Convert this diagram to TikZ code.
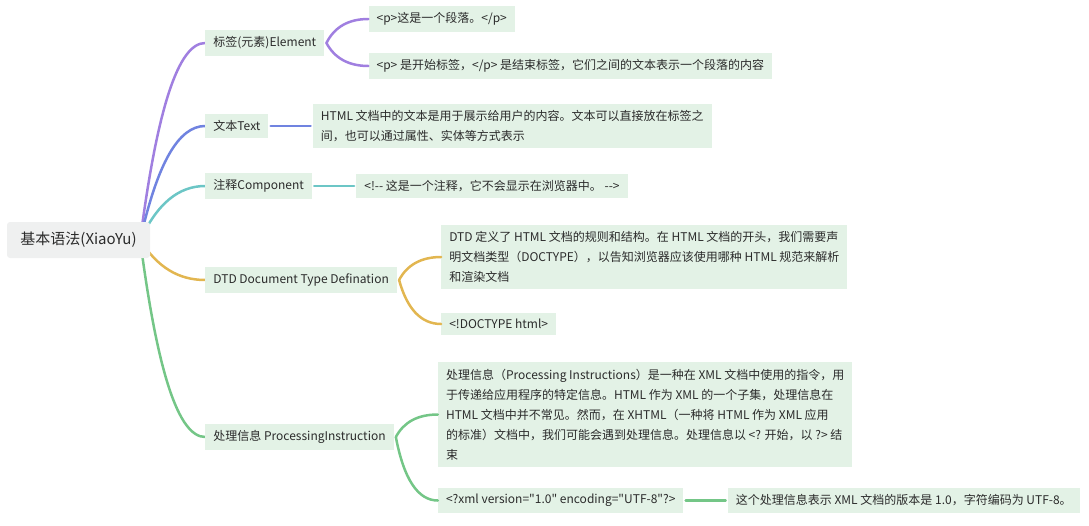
\documentclass[tikz,border=0pt]{standalone}
\usepackage{fontspec}
\setmainfont{Noto Sans CJK SC}[Ligatures=TeXOff]
\usetikzlibrary{positioning,backgrounds}
\definecolor{ink}{HTML}{2B2B2B}
\definecolor{topicfill}{HTML}{E3F2E6}
\definecolor{rootfill}{HTML}{EFF0F0}
\definecolor{lav}{HTML}{A07FE0}
\definecolor{blu}{HTML}{7083E0}
\definecolor{tea}{HTML}{6CC6C6}
\definecolor{yel}{HTML}{E2B650}
\definecolor{grn}{HTML}{74C687}
\tikzstyle{box}=[rectangle,inner xsep=8pt,inner ysep=6.5pt,fill=topicfill,text=ink,align=left,font=\fontsize{12}{20}\selectfont]
\tikzstyle{rootbox}=[rectangle,rounded corners=3pt,fill=rootfill,text=ink,minimum width=143pt,minimum height=36pt,font=\fontsize{15}{18}\selectfont]
\tikzstyle{topic}=[box]
\tikzstyle{leaf}=[box]
\tikzstyle{link}=[line width=2.5pt,line cap=round]
\tikzstyle{lavender}=[link,draw=lav]
\tikzstyle{blue line}=[link,draw=blu]
\tikzstyle{teal line}=[link,draw=tea]
\tikzstyle{yellow line}=[link,draw=yel]
\tikzstyle{green line}=[link,draw=grn]
\begin{document}
\begin{tikzpicture}

\useasboundingbox (0,0) rectangle (1089pt,-525pt);

\node (root) [rootbox] at (78.5pt,-240pt) {基本语法(XiaoYu)};

\node (el) [topic,right=55pt of root,yshift=197pt] {标签(元素)Element};
\node (txt) [topic,right=55pt of root,yshift=114pt] {文本Text};
\node (com) [topic,right=55pt of root,yshift=54pt] {注释Component};
\node (dtd) [topic,right=55pt of root,yshift=-40pt] {DTD Document Type Defination};
\node (pi) [topic,right=55pt of root,yshift=-197pt] {处理信息 ProcessingInstruction};

\node (el1) [leaf,right=44pt of el,yshift=24pt] {<p>这是一个段落。</p>};
\node (el2) [leaf,right=44pt of el,yshift=-23pt] {<p> 是开始标签，</p> 是结束标签，它们之间的文本表示一个段落的内容};
\node (txt1) [leaf,right=44pt of txt] {HTML 文档中的文本是用于展示给用户的内容。文本可以直接放在标签之\\间，也可以通过属性、实体等方式表示};
\node (com1) [leaf,right=44pt of com] {<!-{}- 这是一个注释，它不会显示在浏览器中。 -{}->};
\node (dtd1) [leaf,right=44pt of dtd,yshift=23pt] {DTD 定义了 HTML 文档的规则和结构。在 HTML 文档的开头，我们需要声\\明文档类型（DOCTYPE），以告知浏览器应该使用哪种 HTML 规范来解析\\和渲染文档};
\node (dtd2) [leaf,right=44pt of dtd,yshift=-44pt] {<!DOCTYPE html>};
\node (pi1) [leaf,right=44pt of pi,yshift=22.5pt] {处理信息（Processing Instructions）是一种在 XML 文档中使用的指令，用\\于传递给应用程序的特定信息。HTML 作为 XML 的一个子集，处理信息在\\HTML 文档中并不常见。然而，在 XHTML（一种将 HTML 作为 XML 应用\\的标准）文档中，我们可能会遇到处理信息。处理信息以 <? 开始，以 ?> 结\\束};
\node (pi2) [leaf,right=44pt of pi,yshift=-63.5pt] {<?xml version="1.0" encoding="UTF-8"?>};
\node (pi3) [leaf,right=44pt of pi2] {这个处理信息表示 XML 文档的版本是 1.0，字符编码为 UTF-8。};

\begin{scope}[on background layer]
% root to topics
\draw [lavender] ([xshift=-10pt]root.east) .. controls +(17pt,131pt) and +(-27pt,0) .. (el.west) ;
\draw [blue line] ([xshift=-10pt]root.east) .. controls +(17pt,76pt) and +(-27pt,0) .. (txt.west) ;
\draw [teal line] ([xshift=-10pt]root.east) .. controls +(17pt,36pt) and +(-27pt,0) .. (com.west) ;
\draw [yellow line] ([xshift=-10pt]root.east) .. controls +(17pt,-27pt) and +(-27pt,0) .. (dtd.west) ;
\draw [green line] ([xshift=-10pt]root.east) .. controls +(17pt,-131pt) and +(-27pt,0) .. (pi.west) ;
\end{scope}

% topics to leaves
\draw [lavender] ([xshift=2pt]el.east) .. controls +(8pt,16pt) and +(-20pt,0) .. (el1.west) ;
\draw [lavender] ([xshift=2pt]el.east) .. controls +(8pt,-15pt) and +(-20pt,0) .. (el2.west) ;
\draw [blue line] ([xshift=2pt]txt.east) -- ([xshift=-2pt]txt1.west) ;
\draw [teal line] ([xshift=2pt]com.east) -- ([xshift=-2pt]com1.west) ;
\draw [yellow line] ([xshift=2pt]dtd.east) .. controls +(8pt,15pt) and +(-20pt,0) .. (dtd1.west) ;
\draw [yellow line] ([xshift=2pt]dtd.east) .. controls +(8pt,-29pt) and +(-20pt,0) .. (dtd2.west) ;
\draw [green line] ([xshift=2pt]pi.east) .. controls +(8pt,15pt) and +(-20pt,0) .. (pi1.west) ;
\draw [green line] ([xshift=2pt]pi.east) .. controls +(8pt,-42pt) and +(-20pt,0) .. (pi2.west) ;
\draw [green line] ([xshift=2pt]pi2.east) -- ([xshift=-2pt]pi3.west) ;

\end{tikzpicture}
\end{document}
